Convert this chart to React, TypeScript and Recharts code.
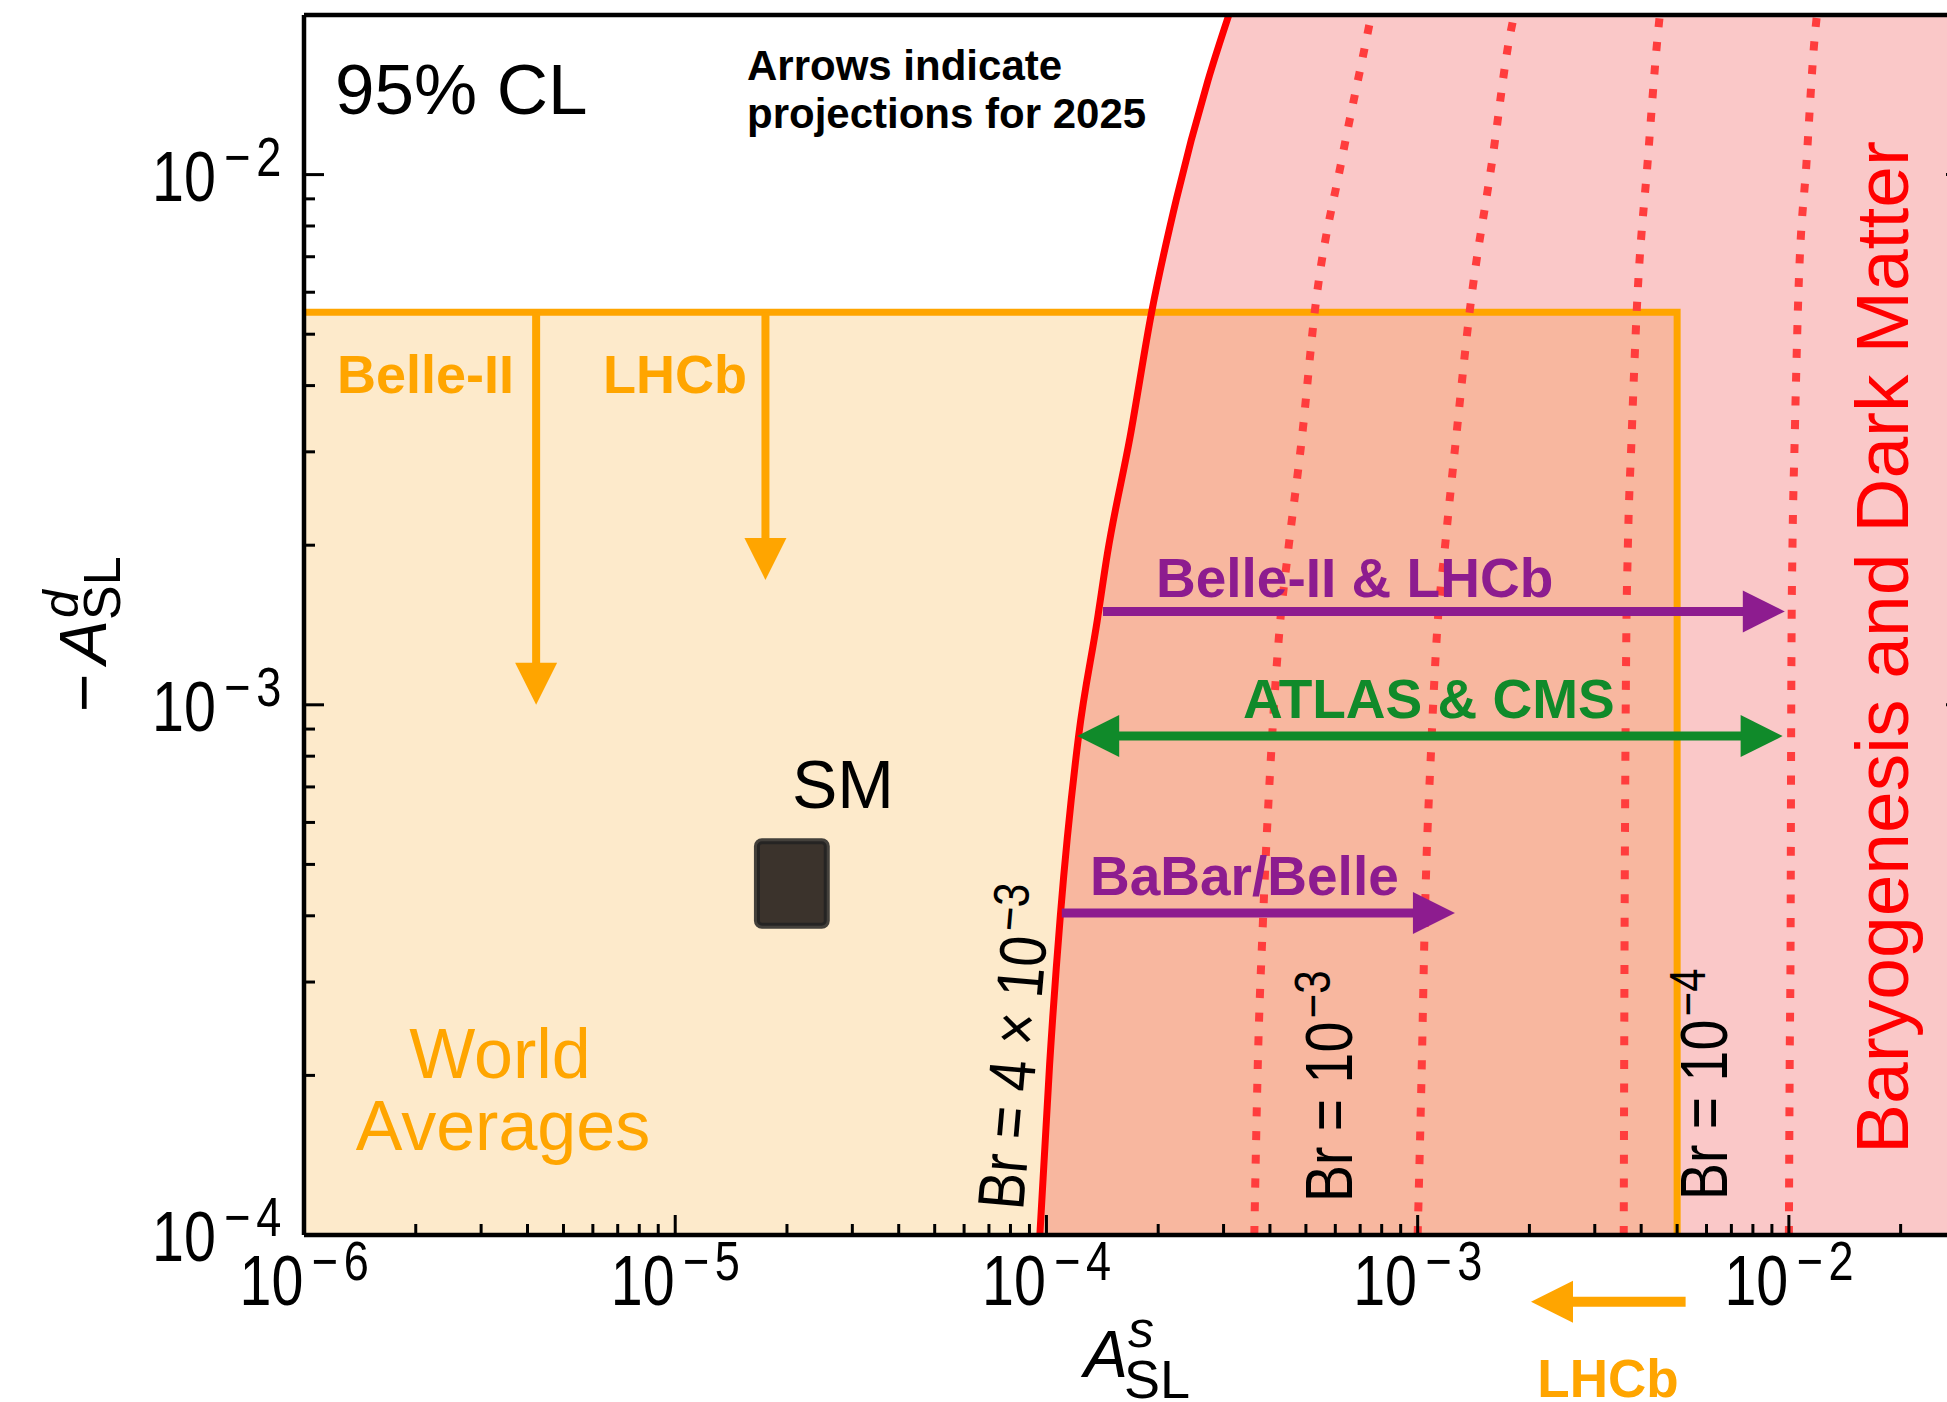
import React from 'react'
import { ComposedChart, Line, Area, XAxis, YAxis, ReferenceLine, ReferenceArea } from 'recharts'

const FONT = '"Liberation Sans", Arial, Helvetica, sans-serif'
const MINUS = '\u2212'

const ORANGE = '#ffa500'
const ORANGE_FILL = '#fdeacb'
const PURPLE = '#8d1c8f'
const GREEN = '#108a2a'
const RED = '#ff0000'
const DOT_RED = '#ff3d3d'

// axis ranges (log scales)
const xDomain = [1e-6, 3e-2]
const yDomain = [1e-4, 2e-2]

const xMajorTicks = [1e-6, 1e-5, 1e-4, 1e-3, 1e-2]
const yMajorTicks = [1e-4, 1e-3, 1e-2]
const minorSteps = [2, 3, 4, 5, 6, 7, 8, 9]
const xTicks = [
  ...xMajorTicks.slice(0, 4).flatMap(m => [m, ...minorSteps.map(k => k * m)]),
  1e-2, 2e-2, 3e-2,
]
const yTicks = [
  ...yMajorTicks.slice(0, 2).flatMap(m => [m, ...minorSteps.map(k => k * m)]),
  1e-2, 2e-2,
]

// Br = 4e-3 bound (solid red curve)
const brBoundY = [1.0e-4, 2.1e-4, 4.0e-4, 8.7e-4, 1.44e-3, 1.93e-3, 3.2e-3, 5.5e-3, 9.0e-3, 1.5e-2, 2.0e-2]
const brBoundX = [9.6e-5, 1.02e-4, 1.09e-4, 1.22e-4, 1.37e-4, 1.46e-4, 1.68e-4, 1.92e-4, 2.24e-4, 2.72e-4, 3.1e-4]

// dotted Br contours share one set of A_SL^d readings
const dottedY = [1.0e-4, 2.1e-4, 3.9e-4, 8.6e-4, 1.4e-3, 1.93e-3, 3.2e-3, 5.5e-3, 1.07e-2, 1.82e-2, 2.0e-2]
const brDotAX = [3.63e-4, 3.71e-4, 3.83e-4, 4.05e-4, 4.25e-4, 4.47e-4, 4.88e-4, 5.28e-4, 6.25e-4, 7.3e-4, 7.5e-4]
const brDotBX = [1.0e-3, 1.026e-3, 1.045e-3, 1.09e-3, 1.13e-3, 1.18e-3, 1.27e-3, 1.38e-3, 1.59e-3, 1.77e-3, 1.82e-3]
const brDotCX = [3.59e-3, 3.6e-3, 3.61e-3, 3.63e-3, 3.65e-3, 3.68e-3, 3.77e-3, 3.89e-3, 4.17e-3, 4.43e-3, 4.49e-3]
const brDotDX = [1.0e-2, 1.005e-2, 1.011e-2, 1.014e-2, 1.017e-2, 1.022e-2, 1.037e-2, 1.057e-2, 1.117e-2, 1.174e-2, 1.19e-2]

// world averages box
const worldAvgX = [1e-6, 5.0e-3]
const worldAvgY = [1e-4, 5.5e-3]

// SM prediction box
const smX = [1.66e-5, 2.56e-5]
const smY = [3.83e-4, 5.53e-4]

// projection arrows: [start, end]
const belle2DownX = [4.22e-6, 4.22e-6]
const belle2DownY = [5.5e-3, 1.0e-3]
const lhcbDownX = [1.75e-5, 1.75e-5]
const lhcbDownY = [5.5e-3, 1.72e-3]
const belleLhcbX = [1.42e-4, 9.75e-3]
const belleLhcbY = [1.5e-3, 1.5e-3]
const atlasCmsX = [1.21e-4, 9.62e-3]
const atlasCmsY = [8.73e-4, 8.73e-4]
const babarBelleX = [1.1e-4, 1.26e-3]
const babarBelleY = [4.05e-4, 4.05e-4]
const lhcbSX = [5.27e-3, 2.02e-3]
const lhcbSY = [7.48e-5, 7.48e-5]

const toPoints = (xs: number[], ys: number[]) => xs.map((x, i) => ({ x, y: ys[i] }))

const brBound = toPoints(brBoundX, brBoundY)
const pinkBand = [
  ...brBound.map(p => ({ x: p.x, band: [yDomain[0], p.y] })),
  { x: xDomain[1], band: [yDomain[0], yDomain[1]] },
]
const worldAvgBand = worldAvgX.map(x => ({ x, band: [worldAvgY[0], worldAvgY[1]] }))
const worldAvgEdge = [
  { x: worldAvgX[0], y: worldAvgY[1] },
  { x: worldAvgX[1], y: worldAvgY[1] },
  { x: worldAvgX[1], y: worldAvgY[0] },
]
const dottedCurves = [brDotAX, brDotBX, brDotCX, brDotDX].map(xs => toPoints(xs, dottedY))

const seg = (xs: number[], ys: number[]) => [
  { x: xs[0], y: ys[0] },
  { x: xs[1], y: ys[1] },
]

const isMajor = (v: number) => Math.abs(Math.log10(v) - Math.round(Math.log10(v))) < 1e-6
const expOf = (v: number) => Math.round(Math.log10(v))

const TickLabel = ({ x, y, anchor, n }: { x: number; y: number; anchor: 'middle' | 'end'; n: number }) => (
  <g transform={`translate(${x},${y}) scale(0.82,1)`}>
    <text x={0} y={0} textAnchor={anchor} fontFamily={FONT} fontSize={70} fill="#000">
      10<tspan dx={10} dy={-25} fontSize={55} letterSpacing={7}>{MINUS}{Math.abs(n)}</tspan>
    </text>
  </g>
)

const tickLen = (v: number) => (isMajor(v) ? 20 : 11)

const bottomTick = (p: any) => {
  const v = p.payload.value
  return (
    <g>
      <line x1={p.x} x2={p.x} y1={p.y} y2={p.y - tickLen(v)} stroke="#000" strokeWidth={3} />
      {isMajor(v) && <TickLabel x={p.x + 3} y={p.y + 70} anchor="middle" n={expOf(v)} />}
    </g>
  )
}
const topTick = (p: any) => (
  <line x1={p.x} x2={p.x} y1={p.y} y2={p.y + tickLen(p.payload.value)} stroke="#000" strokeWidth={3} />
)
const leftTick = (p: any) => {
  const v = p.payload.value
  return (
    <g>
      <line x1={p.x} x2={p.x + tickLen(v)} y1={p.y} y2={p.y} stroke="#000" strokeWidth={3} />
      {isMajor(v) && <TickLabel x={p.x - 17} y={p.y + 26} anchor="end" n={expOf(v)} />}
    </g>
  )
}
const rightTick = (p: any) => (
  <line x1={p.x} x2={p.x - tickLen(p.payload.value)} y1={p.y} y2={p.y} stroke="#000" strokeWidth={3} />
)

// arrow drawn between the two segment end points that recharts computes
const makeArrow = (color: string, shaft: number, both = false) => (p: any) => {
  const { x1, y1, x2, y2 } = p
  const len = Math.hypot(x2 - x1, y2 - y1) || 1
  const ux = (x2 - x1) / len
  const uy = (y2 - y1) / len
  const nx = -uy
  const ny = ux
  const hl = 42
  const hw = 21
  const head = (tx: number, ty: number, dx: number, dy: number) => {
    const bx = tx - dx * hl
    const by = ty - dy * hl
    return `${tx},${ty} ${bx + nx * hw},${by + ny * hw} ${bx - nx * hw},${by - ny * hw}`
  }
  const sx = both ? x1 + ux * (hl - 4) : x1
  const sy = both ? y1 + uy * (hl - 4) : y1
  return (
    <g>
      <line x1={sx} y1={sy} x2={x2 - ux * (hl - 4)} y2={y2 - uy * (hl - 4)} stroke={color} strokeWidth={shaft} />
      <polygon points={head(x2, y2, ux, uy)} fill={color} />
      {both && <polygon points={head(x1, y1, -ux, -uy)} fill={color} />}
    </g>
  )
}

const axisLine = { stroke: '#000', strokeWidth: 4.5 }

export default function App() {
  return (
    <div style={{ position: 'fixed', left: 0, top: 0, width: 1947, height: 1402, overflow: 'hidden', background: '#fff' }}>
      <div style={{ position: 'absolute', left: 0, top: 0 }}>
        <ComposedChart width={2000} height={1402} margin={{ top: 14, right: 33, bottom: 67, left: 204 }}>
          <Area data={worldAvgBand} dataKey="band" type="linear" stroke="none" fill={ORANGE_FILL} fillOpacity={1}
            isAnimationActive={false} zIndex={100} />
          <Area data={pinkBand} dataKey="band" type="monotone" stroke="none" fill="#e80000" fillOpacity={0.216}
            isAnimationActive={false} zIndex={110} />
          <ReferenceArea x1={smX[0]} x2={smX[1]} y1={smY[0]} y2={smY[1]} fill="#3b332c" fillOpacity={1}
            stroke="#222" strokeOpacity={0.85} strokeWidth={6} radius={5} zIndex={120} />
          <Line data={worldAvgEdge} dataKey="y" type="linear" stroke={ORANGE} strokeWidth={7} dot={false}
            activeDot={false} isAnimationActive={false} zIndex={400} />
          <ReferenceLine segment={seg(belle2DownX, belle2DownY)} shape={makeArrow(ORANGE, 8)} zIndex={410} />
          <ReferenceLine segment={seg(lhcbDownX, lhcbDownY)} shape={makeArrow(ORANGE, 8)} zIndex={410} />
          <Line data={brBound} dataKey="y" type="monotone" stroke={RED} strokeWidth={7} dot={false}
            activeDot={false} isAnimationActive={false} zIndex={420} />
          {dottedCurves.map((pts, i) => (
            <Line key={i} data={pts} dataKey="y" type="monotone" stroke={DOT_RED} strokeWidth={8}
              strokeDasharray="9 14.7" dot={false} activeDot={false} isAnimationActive={false} zIndex={430} />
          ))}
          <ReferenceLine segment={seg(belleLhcbX, belleLhcbY)} shape={makeArrow(PURPLE, 9)} zIndex={440} />
          <ReferenceLine segment={seg(atlasCmsX, atlasCmsY)} shape={makeArrow(GREEN, 9, true)} zIndex={440} />
          <ReferenceLine segment={seg(babarBelleX, babarBelleY)} shape={makeArrow(PURPLE, 9)} zIndex={440} />
          <ReferenceLine segment={seg(lhcbSX, lhcbSY)} shape={makeArrow(ORANGE, 10)} ifOverflow="visible" zIndex={440} />

          <XAxis dataKey="x" type="number" scale="log" domain={xDomain} allowDataOverflow ticks={xTicks}
            interval={0} tick={bottomTick} tickLine={false} tickSize={0} tickMargin={0} height={100} axisLine={axisLine} />
          <XAxis xAxisId="top" orientation="top" type="number" scale="log" domain={xDomain} allowDataOverflow
            ticks={xTicks} interval={0} tick={topTick} tickLine={false} tickSize={0} tickMargin={0} height={1} axisLine={axisLine} />
          <YAxis type="number" scale="log" domain={yDomain} allowDataOverflow ticks={yTicks} interval={0}
            tick={leftTick} tickLine={false} tickSize={0} tickMargin={0} width={100} axisLine={axisLine} />
          <YAxis yAxisId="right" orientation="right" type="number" scale="log" domain={yDomain} allowDataOverflow
            ticks={yTicks} interval={0} tick={rightTick} tickLine={false} tickSize={0} tickMargin={0} width={1} axisLine={axisLine} />
        </ComposedChart>
      </div>

      <svg width={1947} height={1402} style={{ position: 'absolute', left: 0, top: 0, pointerEvents: 'none' }}
        fontFamily={FONT}>
        <text x={335} y={114} fontSize={71} fill="#000">95% CL</text>
        <text x={747} y={80} fontSize={42} fontWeight="bold" fill="#000">Arrows indicate</text>
        <text x={747} y={128} fontSize={42} fontWeight="bold" fill="#000">projections for 2025</text>

        <text x={337} y={393} fontSize={54} fontWeight="bold" fill={ORANGE}>Belle-II</text>
        <text x={603} y={393} fontSize={54} fontWeight="bold" fill={ORANGE}>LHCb</text>
        <text x={792} y={808} fontSize={68} fill="#000">SM</text>
        <text x={500} y={1078} fontSize={70} fill={ORANGE} textAnchor="middle">World</text>
        <text x={503} y={1150} fontSize={70} fill={ORANGE} textAnchor="middle">Averages</text>

        <text x={1156} y={597} fontSize={55} fontWeight="bold" fill={PURPLE}>Belle-II &amp; LHCb</text>
        <text x={1243} y={718} fontSize={55} fontWeight="bold" fill={GREEN}>ATLAS &amp; CMS</text>
        <text x={1090} y={895} fontSize={55} fontWeight="bold" fill={PURPLE}>BaBar/Belle</text>

        <g transform="translate(1023,1211) rotate(-85) scale(0.84,1)">
          <text x={0} y={0} fontSize={66} fill="#000">
            Br = 4 × 10<tspan dx={4} dy={-22} fontSize={50}>{MINUS}3</tspan>
          </text>
        </g>
        <g transform="translate(1352,1202) rotate(-90) scale(0.84,1)">
          <text x={0} y={0} fontSize={66} fill="#000">
            Br = 10<tspan dx={4} dy={-22} fontSize={50}>{MINUS}3</tspan>
          </text>
        </g>
        <g transform="translate(1727,1200) rotate(-90) scale(0.84,1)">
          <text x={0} y={0} fontSize={66} fill="#000">
            Br = 10<tspan dx={4} dy={-22} fontSize={50}>{MINUS}4</tspan>
          </text>
        </g>
        <g transform="translate(1908,1154) rotate(-90)">
          <text x={0} y={0} fontSize={75} fill={RED}>Baryogenesis and Dark Matter</text>
        </g>

        <text x={1608} y={1397} fontSize={53} fontWeight="bold" fill={ORANGE} textAnchor="middle">LHCb</text>

        {/* axis titles */}
        <text x={1084} y={1377} fontSize={66} fontStyle="italic" fill="#000">A</text>
        <text x={1128} y={1347} fontSize={52} fontStyle="italic" fill="#000">s</text>
        <text x={1124} y={1398} fontSize={54} fill="#000">SL</text>

        <g transform="translate(106,712) rotate(-90)">
          <text x={0} y={0} fontSize={66} fill="#000">{MINUS}</text>
          <text x={48} y={0} fontSize={66} fontStyle="italic" fill="#000">A</text>
          <text x={94} y={-28} fontSize={50} fontStyle="italic" fill="#000">d</text>
          <text x={92} y={14} fontSize={52} fill="#000">SL</text>
        </g>
      </svg>
    </div>
  )
}
